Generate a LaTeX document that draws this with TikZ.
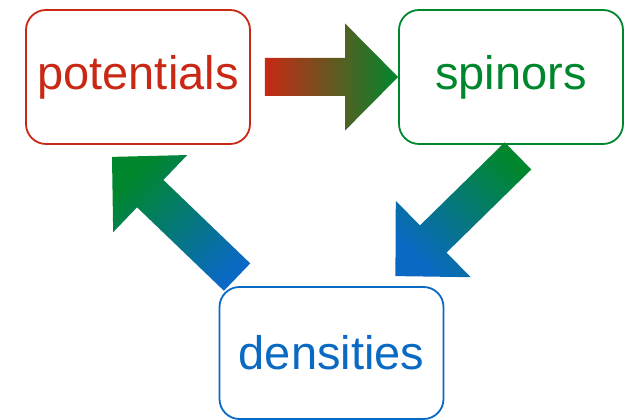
\documentclass[tikz,border=0pt]{standalone}
\usepackage{fontspec}
\setmainfont{Liberation Sans}
\usetikzlibrary{calc}

\definecolor{potred}{RGB}{200,40,20}
\definecolor{spingreen}{RGB}{0,135,45}
\definecolor{densblue}{RGB}{10,105,195}

% fat arrow from #2 to #3, shaded with #1
\newcommand{\blockarrow}[3]{%
    \coordinate (hb) at ($(#3)!53pt!(#2)$);
    \shade[#1] ($(#2)!19pt!90:(#3)$) -- ($(hb)!19pt!-90:(#2)$) -- ($(hb)!53.5pt!-90:(#2)$)
        -- (#3) -- ($(hb)!53.5pt!90:(#2)$) -- ($(hb)!19pt!90:(#2)$) -- ($(#2)!19pt!-90:(#3)$) -- cycle;
}

\begin{document}
\begin{tikzpicture}[x=1pt, y=1pt]
    \tikzstyle{quantity}=[draw, line width=1.8pt, rounded corners=20pt, inner sep=0pt,
        minimum width=224pt, minimum height=134pt, font=\fontsize{47pt}{56pt}\selectfont]

    \useasboundingbox (0, 0) rectangle (624, 420);

    \node[quantity, potred] (pot) at (138, 343) {potentials};
    \node[quantity, spingreen] (spin) at (511, 343) {spinors};
    \node[quantity, densblue, minimum height=132pt] (dens) at (331.5, 67) {densities};

    \coordinate (a1) at ($(pot.east) + (14, 0)$);
    \coordinate (b1) at (spin.west);
    \coordinate (a2) at ($(spin.south) + (7, -11)$);
    \coordinate (b2) at ($(dens.north east) + (-49, 10)$);
    \coordinate (a3) at ($(dens.north west) + (18.5, 9)$);
    \coordinate (b3) at ($(pot.south) + (-26, -12)$);

    \foreach \s/\t/\ca/\cb/\ang in {a1/b1/potred/spingreen/90, a2/b2/spingreen/densblue/-45, a3/b3/densblue/spingreen/-135} {
        \blockarrow{top color=\ca, bottom color=\cb, shading angle=\ang}{\s}{\t}
    }
\end{tikzpicture}
\end{document}
